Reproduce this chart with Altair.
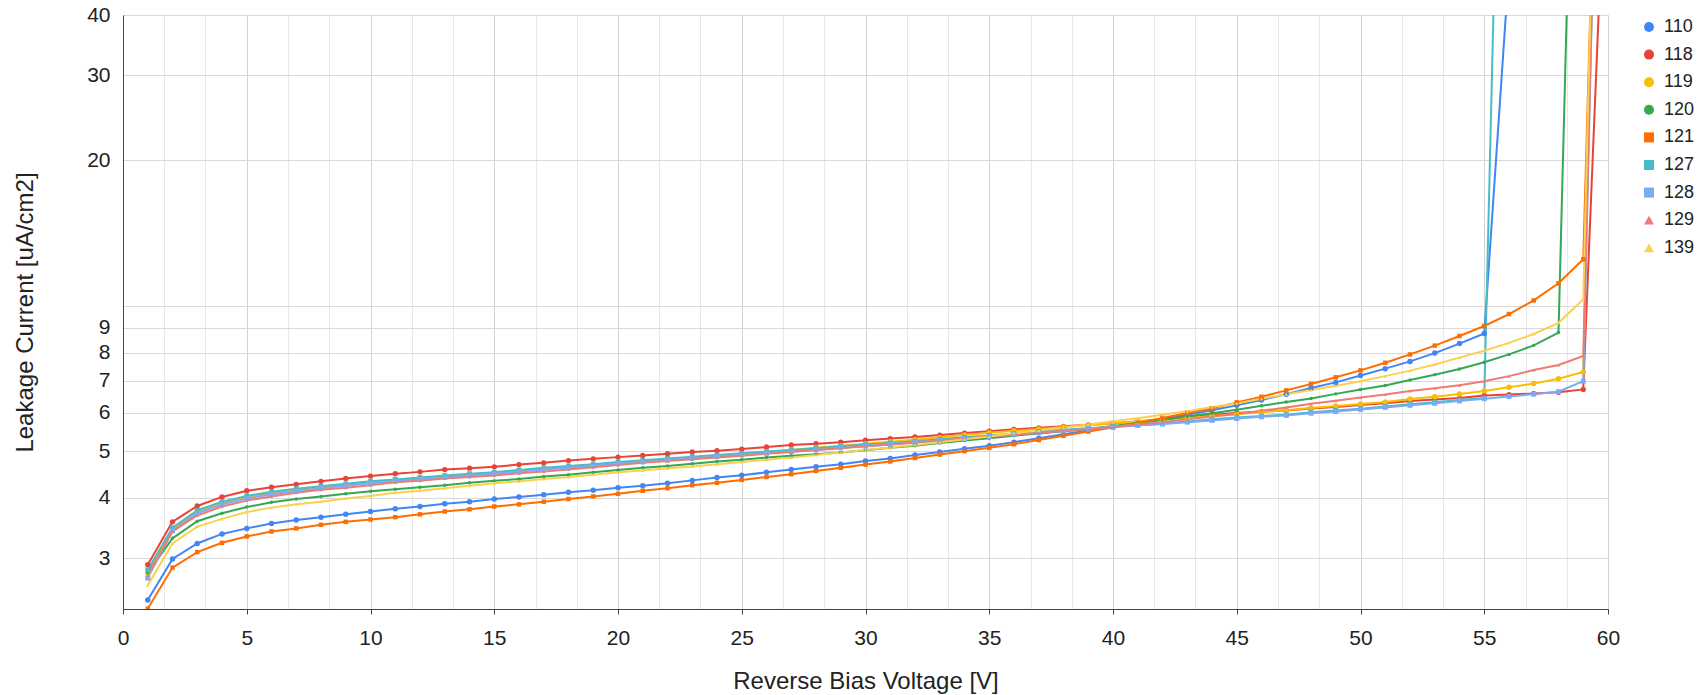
import altair as alt
import pandas as pd

series = ["110", "118", "119", "120", "121", "127", "128", "129", "139"]
colors = ["#4285F4", "#EA4335", "#FBBC04", "#34A853", "#FF6D01", "#46BDC6", "#7BAAF7", "#F07B72", "#FCD04F"]
shapes = ["circle", "circle", "circle", "circle", "square", "square", "square", "triangle-up", "triangle-up"]
point_sizes = [30, 28, 30, 12, 20, 24, 24, 12, 12]

v110 = [2.46, 2.99, 3.22, 3.37, 3.46, 3.54, 3.60, 3.65, 3.70, 3.75, 3.80, 3.84, 3.89, 3.93, 3.98, 4.02, 4.06, 4.11, 4.15, 4.20,
        4.24, 4.29, 4.35, 4.41, 4.46, 4.52, 4.58, 4.64, 4.70, 4.77, 4.83, 4.91, 4.98, 5.06, 5.13, 5.22, 5.32, 5.42, 5.52, 5.62,
        5.72, 5.83, 5.95, 6.08, 6.22, 6.38, 6.56, 6.76, 6.94, 7.17, 7.41, 7.67, 7.98, 8.35, 8.76, 50]
v118 = [2.91, 3.57, 3.85, 4.02, 4.14, 4.21, 4.27, 4.33, 4.39, 4.44, 4.49, 4.53, 4.58, 4.61, 4.64, 4.69, 4.73, 4.78, 4.82, 4.86,
        4.90, 4.94, 4.98, 5.01, 5.05, 5.10, 5.15, 5.18, 5.22, 5.27, 5.31, 5.35, 5.40, 5.45, 5.50, 5.55, 5.59, 5.63, 5.67, 5.71,
        5.76, 5.83, 5.90, 5.95, 6.00, 6.04, 6.07, 6.13, 6.17, 6.23, 6.28, 6.35, 6.40, 6.44, 6.52, 6.55, 6.58, 6.62, 6.71, 120]
v119 = [2.80, 3.45, 3.75, 3.91, 4.02, 4.10, 4.16, 4.21, 4.26, 4.31, 4.35, 4.39, 4.43, 4.47, 4.50, 4.55, 4.60, 4.64, 4.68, 4.73,
        4.77, 4.81, 4.85, 4.89, 4.93, 4.98, 5.03, 5.08, 5.13, 5.18, 5.23, 5.28, 5.34, 5.40, 5.46, 5.51, 5.56, 5.61, 5.66, 5.71,
        5.76, 5.81, 5.86, 5.91, 5.96, 6.02, 6.08, 6.14, 6.20, 6.26, 6.32, 6.41, 6.48, 6.57, 6.66, 6.78, 6.90, 7.06, 7.29, 1270]
v120 = [2.80, 3.30, 3.58, 3.72, 3.83, 3.92, 3.98, 4.03, 4.08, 4.13, 4.17, 4.21, 4.25, 4.30, 4.34, 4.38, 4.43, 4.47, 4.52, 4.57,
        4.62, 4.66, 4.71, 4.76, 4.80, 4.85, 4.89, 4.93, 4.97, 5.02, 5.08, 5.13, 5.20, 5.26, 5.32, 5.38, 5.44, 5.50, 5.56, 5.64,
        5.72, 5.80, 5.90, 5.99, 6.09, 6.21, 6.32, 6.43, 6.57, 6.71, 6.84, 7.02, 7.20, 7.40, 7.64, 7.93, 8.28, 8.80, 860]
v121 = [2.36, 2.87, 3.09, 3.23, 3.33, 3.41, 3.46, 3.52, 3.57, 3.61, 3.65, 3.70, 3.75, 3.79, 3.84, 3.88, 3.93, 3.98, 4.03, 4.08,
        4.14, 4.19, 4.25, 4.30, 4.36, 4.42, 4.48, 4.55, 4.62, 4.69, 4.76, 4.84, 4.92, 5.00, 5.08, 5.17, 5.27, 5.38, 5.49, 5.60,
        5.72, 5.86, 6.00, 6.13, 6.31, 6.48, 6.68, 6.89, 7.11, 7.35, 7.62, 7.93, 8.27, 8.66, 9.08, 9.61, 10.26, 11.13, 12.48, 800]
v127 = [2.84, 3.47, 3.77, 3.93, 4.04, 4.12, 4.18, 4.23, 4.28, 4.33, 4.37, 4.41, 4.45, 4.49, 4.52, 4.57, 4.62, 4.66, 4.70, 4.75,
        4.79, 4.83, 4.87, 4.91, 4.95, 4.99, 5.03, 5.07, 5.12, 5.16, 5.20, 5.24, 5.29, 5.34, 5.39, 5.44, 5.49, 5.54, 5.58, 5.62,
        5.66, 5.70, 5.76, 5.82, 5.87, 5.91, 5.95, 6.02, 6.07, 6.12, 6.19, 6.25, 6.31, 6.38, 6.44, 900]
v128 = [2.73, 3.42, 3.72, 3.88, 3.99, 4.07, 4.13, 4.19, 4.24, 4.29, 4.33, 4.37, 4.41, 4.45, 4.49, 4.53, 4.58, 4.62, 4.66, 4.71,
        4.75, 4.79, 4.83, 4.87, 4.91, 4.95, 4.99, 5.03, 5.08, 5.12, 5.16, 5.21, 5.26, 5.31, 5.36, 5.41, 5.46, 5.51, 5.56, 5.61,
        5.65, 5.69, 5.74, 5.79, 5.84, 5.89, 5.93, 5.99, 6.04, 6.10, 6.16, 6.22, 6.28, 6.35, 6.42, 6.49, 6.56, 6.64, 6.98, 1100]
v129 = [2.77, 3.41, 3.68, 3.84, 3.95, 4.03, 4.10, 4.16, 4.20, 4.25, 4.31, 4.34, 4.39, 4.42, 4.45, 4.50, 4.54, 4.58, 4.63, 4.68,
        4.73, 4.77, 4.81, 4.85, 4.89, 4.94, 4.98, 5.03, 5.07, 5.12, 5.16, 5.21, 5.26, 5.31, 5.36, 5.41, 5.46, 5.51, 5.56, 5.62,
        5.68, 5.74, 5.82, 5.90, 5.97, 6.06, 6.16, 6.27, 6.36, 6.46, 6.55, 6.66, 6.75, 6.85, 6.98, 7.15, 7.36, 7.54, 7.87, 1000]
v139 = [2.64, 3.22, 3.49, 3.62, 3.74, 3.82, 3.88, 3.93, 3.99, 4.04, 4.10, 4.14, 4.19, 4.24, 4.29, 4.33, 4.38, 4.42, 4.47, 4.52,
        4.56, 4.61, 4.65, 4.70, 4.75, 4.80, 4.85, 4.91, 4.97, 5.03, 5.09, 5.15, 5.22, 5.29, 5.36, 5.45, 5.52, 5.60, 5.68, 5.77,
        5.85, 5.95, 6.05, 6.17, 6.28, 6.42, 6.56, 6.69, 6.83, 6.98, 7.15, 7.34, 7.56, 7.81, 8.07, 8.38, 8.74, 9.22, 10.31, 1200]

values = [v110, v118, v119, v120, v121, v127, v128, v129, v139]

rows = []
for s, c, vals, ps in zip(series, colors, values, point_sizes):
    for i, v in enumerate(vals):
        rows.append({"series": s, "hex": c, "voltage": i + 1, "current": v, "psize": ps})
df = pd.DataFrame(rows)

FONT = "Liberation Sans"
x_grid = [round(i * 5 / 3, 6) for i in range(37)]
y_vals = [3, 4, 5, 6, 7, 8, 9, 10, 20, 30, 40]

x_enc = alt.X(
    "voltage:Q",
    title="Reverse Bias Voltage [V]",
    scale=alt.Scale(domain=[0, 60], nice=False),
    axis=alt.Axis(
        values=x_grid,
        labelExpr="datum.value % 5 == 0 ? format(datum.value, 'd') : ''",
        gridColor={"condition": {"test": "datum.value % 5 == 0", "value": "#d2d2d2"}, "value": "#e8e8e8"},
        tickColor={"condition": {"test": "datum.value % 5 == 0", "value": "#444444"}, "value": "transparent"},
        tickSize=5,
        labelPadding=13,
        labelFontSize=21,
        labelFont=FONT,
        labelColor="#222222",
        titleFont=FONT,
        titleFontSize=24,
        titleFontWeight="normal",
        titleColor="#222222",
        titlePadding=21,
        domainColor="#444444",
        labelOverlap=False,
        labelFlush=False,
    ),
)
y_enc = alt.Y(
    "current:Q",
    title="Leakage Current [uA/cm2]",
    scale=alt.Scale(type="log", domain=[2.356, 40], nice=False),
    axis=alt.Axis(
        values=y_vals,
        labelExpr="datum.value == 10 ? '' : format(datum.value, 'd')",
        ticks=False,
        gridColor="#d9d9d9",
        labelPadding=13,
        labelFontSize=21,
        labelFont=FONT,
        labelColor="#222222",
        titleFont=FONT,
        titleFontSize=24,
        titleFontWeight="normal",
        titleColor="#222222",
        titlePadding=49,
        domainColor="#444444",
        labelOverlap=False,
    ),
)

color_scale = alt.Scale(domain=series, range=colors)
shape_scale = alt.Scale(domain=series, range=shapes)

lines = alt.Chart(df).mark_line(strokeWidth=2, clip=True).encode(
    x=x_enc,
    y=y_enc,
    color=alt.Color("hex:N", scale=None),
    detail="series:N",
    order="voltage:Q",
)

legend = alt.Legend(
    title=None,
    orient="none",
    legendX=1517,
    legendY=3,
    symbolSize=100,
    symbolStrokeWidth=0,
    labelFontSize=18,
    labelFont=FONT,
    labelColor="#222222",
    labelOffset=6,
    rowPadding=9.6,
    padding=0,
)

points = alt.Chart(df).mark_point(filled=True, opacity=1, clip=True).encode(
    x=x_enc,
    y=y_enc,
    color=alt.Color("series:N", scale=color_scale, legend=legend),
    shape=alt.Shape("series:N", scale=shape_scale, legend=legend),
    size=alt.Size("psize:Q", scale=None, legend=None),
)

chart = alt.layer(lines, points).properties(
    width=1485,
    height=594,
    autosize=alt.AutoSizeParams(type="none"),
    padding={"left": 123, "top": 15, "right": 92, "bottom": 86},
).configure_view(stroke=None).configure(background="white")

chart.save("out.html", embed_options={"renderer": "svg", "actions": False})
